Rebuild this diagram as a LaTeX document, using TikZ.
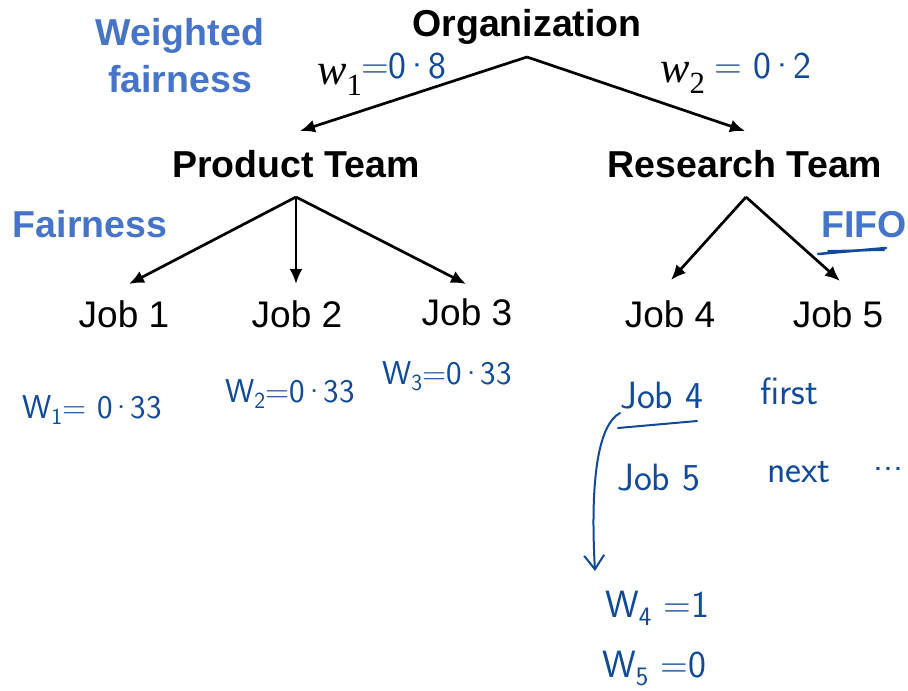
\documentclass[tikz,border=0pt]{standalone}
\usepackage{fontspec}
\setmainfont{Liberation Sans}
\newfontfamily\wfont{Liberation Serif}
\usetikzlibrary{arrows.meta}
\definecolor{lblue}{RGB}{70,116,200}
\definecolor{hblue}{RGB}{16,74,152}
\newcommand{\hdot}{\kern-3pt·\kern-3pt}
\begin{document}
\begin{tikzpicture}[x=1pt,y=-1pt,
  lab/.style={font=\fontsize{37.5}{42}\selectfont\bfseries, anchor=base, inner sep=0},
  job/.style={font=\fontsize{37}{42}\selectfont, anchor=base, inner sep=0},
  blab/.style={lab, text=lblue},
  hw/.style={font=\sffamily\fontsize{38}{42}\selectfont, text=hblue, anchor=base west, inner sep=0},
  hws/.style={hw, font=\sffamily\fontsize{33}{38}\selectfont},
  mw/.style={font=\wfont\itshape\fontsize{44}{48}\selectfont, anchor=base west, inner sep=0},
  arr/.style={line width=2.7pt, -{Latex[length=15pt,width=13pt]}},
  hstroke/.style={draw=hblue, line width=2pt, line cap=round}]
\useasboundingbox (0,0) rectangle (908,691);
\fill[white] (0,0) rectangle (908,691);

% printed labels
\node[lab]  (org)  at (527,36)  {Organization};
\node[blab] (wf1)  at (180,45)  {Weighted};
\node[blab] (wf2)  at (180,92)  {fairness};
\node[lab]  (pt)   at (296,177) {Product Team};
\node[lab]  (rt)   at (745,177) {Research Team};
\node[blab] (fair) at (90,237)  {Fairness};
\node[blab] (fifo) at (864,237) {FIFO};
\node[job]  (j1)   at (124,327) {Job 1};
\node[job]  (j2)   at (297,327) {Job 2};
\node[job]  (j3)   at (467,325) {Job 3};
\node[job]  (j4)   at (670,327) {Job 4};
\node[job]  (j5)   at (838,327) {Job 5};

% connector end points
\coordinate (orgapex) at (527,57);
\coordinate (ptin) at (300,131);
\coordinate (rtin) at (745,131);
\coordinate (ptapex) at (296,197);
\coordinate (rtapex) at (746,197);
\coordinate (j1in) at (129,284);
\coordinate (j2in) at (296,284);
\coordinate (j3in) at (466,284);
\coordinate (j4in) at (671,280);
\coordinate (j5in) at (840,281);

\draw[arr] (orgapex) -- (ptin);
\draw[arr] (orgapex) -- (rtin);
\draw[arr] (ptapex) -- (j1in);
\draw[arr] (ptapex) -- (j2in);
\draw[arr] (ptapex) -- (j3in);
\draw[arr] (rtapex) -- (j4in);
\draw[arr] (rtapex) -- (j5in);

% weights on the top edges
\node[mw] (w1) at (317,84) {w\textsubscript{\upshape 1}};
\node[hw] (w1v) at (361,78) {=0\hdot8};
\node[mw] (w2) at (660,82) {w\textsubscript{\upshape 2}};
\node[hw] (w2v) at (714,78) {= 0\hdot2};

% FIFO underline scribble
\draw[hstroke, line width=2.5pt] (818,254) -- (886,248);
\draw[hstroke] (828,251) -- (884,250);

% handwritten notes
\node[hws] (hw1) at (22,418) {W\textsubscript{1}= 0\hdot33};
\node[hws] (hw2) at (225,402) {W\textsubscript{2}=0\hdot33};
\node[hws] (hw3) at (382,384) {W\textsubscript{3}=0\hdot33};

\node[hw] (h4) at (620,408) {Job 4};
\node[hw] (hfirst) at (760,404) {first};
\draw[hstroke] (618,428) -- (697,421);
\node[hw] (h5) at (617,490) {Job 5};
\node[hw] (hnext) at (767,482) {next};
\node[hw] (hdots) at (873,470) {...};

\coordinate (cstart) at (620,413);
\coordinate (cend) at (595,571);
\draw[hstroke, -{Straight Barb[length=14pt,width=20pt]}] (cstart) .. controls (598,425) and (590,480) .. (cend);

\node[hw] (hw4) at (605,617) {W\textsubscript{4} =1};
\node[hw] (hw5) at (602,677) {W\textsubscript{5} =0};
\end{tikzpicture}
\end{document}
